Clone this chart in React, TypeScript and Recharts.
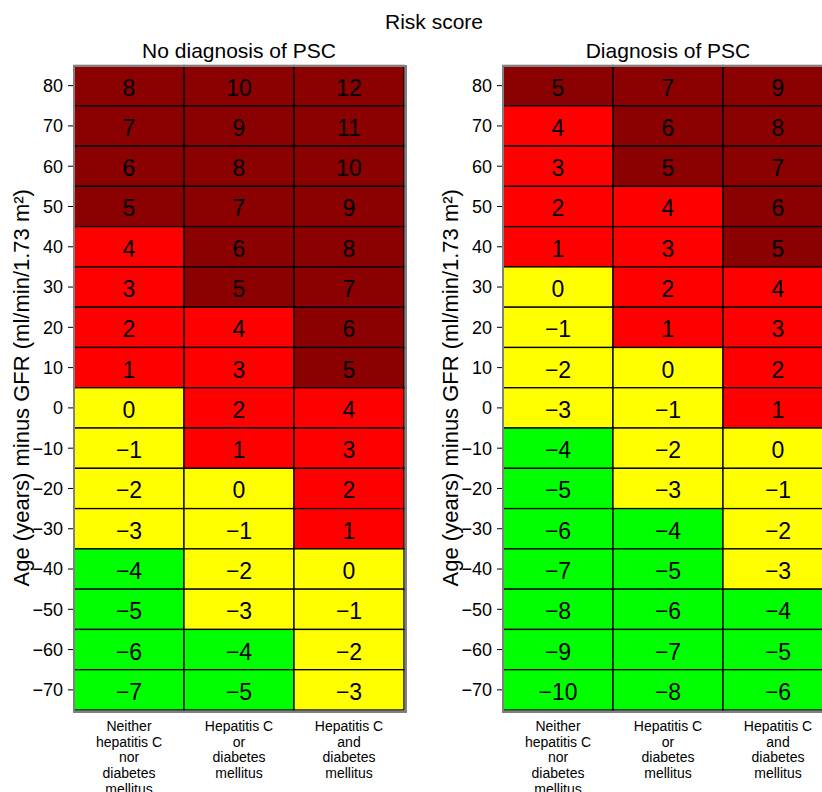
import { ScatterChart, Scatter, XAxis, YAxis } from 'recharts';

const FONT = '"Liberation Sans", Arial, sans-serif';

// Age minus GFR bands, top to bottom
const AGE_BANDS = [80, 70, 60, 50, 40, 30, 20, 10, 0, -10, -20, -30, -40, -50, -60, -70];

const GROUP_LABELS = [
  ['Neither', 'hepatitis C', 'nor', 'diabetes', 'mellitus'],
  ['Hepatitis C', 'or', 'diabetes', 'mellitus'],
  ['Hepatitis C', 'and', 'diabetes', 'mellitus'],
];

// one row per age band, one column per group
const NO_PSC_SCORES = [
  [8, 10, 12],
  [7, 9, 11],
  [6, 8, 10],
  [5, 7, 9],
  [4, 6, 8],
  [3, 5, 7],
  [2, 4, 6],
  [1, 3, 5],
  [0, 2, 4],
  [-1, 1, 3],
  [-2, 0, 2],
  [-3, -1, 1],
  [-4, -2, 0],
  [-5, -3, -1],
  [-6, -4, -2],
  [-7, -5, -3],
];

const PSC_SCORES = [
  [5, 7, 9],
  [4, 6, 8],
  [3, 5, 7],
  [2, 4, 6],
  [1, 3, 5],
  [0, 2, 4],
  [-1, 1, 3],
  [-2, 0, 2],
  [-3, -1, 1],
  [-4, -2, 0],
  [-5, -3, -1],
  [-6, -4, -2],
  [-7, -5, -3],
  [-8, -6, -4],
  [-9, -7, -5],
  [-10, -8, -6],
];

const CHART_W = 420;
const CHART_H = 792;
const MARGIN = { top: 65.5, right: 16, bottom: 0, left: 14 };
const Y_AXIS_W = 60;
const X_AXIS_H = 82;
const PLOT_W = CHART_W - MARGIN.left - MARGIN.right - Y_AXIS_W;
const PLOT_H = CHART_H - MARGIN.top - MARGIN.bottom - X_AXIS_H;
const CELL_W = PLOT_W / GROUP_LABELS.length;
const CELL_H = PLOT_H / AGE_BANDS.length;
const FRAME = 2;

const fmt = (v: number) => (v < 0 ? `\u2212${Math.abs(v)}` : `${v}`);

function riskColor(score: number) {
  if (score >= 5) return '#8B0000';
  if (score >= 1) return '#FF0000';
  if (score >= -3) return '#FFFF00';
  return '#00FF00';
}

const toCells = (scores: number[][]) =>
  scores.flatMap((row, r) => row.map((score, c) => ({ col: c, age: AGE_BANDS[r], score })));

function CellShape(props: any) {
  const { cx, cy, payload } = props;
  return (
    <g>
      <rect
        x={cx - CELL_W / 2}
        y={cy - CELL_H / 2}
        width={CELL_W}
        height={CELL_H}
        fill={riskColor(payload.score)}
        stroke="#000"
        strokeWidth={1.3}
      />
      <text x={cx} y={cy + 10} textAnchor="middle" fontSize={23} fontFamily={FONT} fill="#000">
        {fmt(payload.score)}
      </text>
    </g>
  );
}

function GroupTick(props: any) {
  const { x, y, payload } = props;
  const lines = GROUP_LABELS[payload.value] || [];
  return (
    <text x={x} y={y} textAnchor="middle" fontSize={14} fontFamily={FONT} fill="#000">
      {lines.map((line, i) => (
        <tspan key={i} x={x} dy={i === 0 ? 13 : 15.7}>
          {line}
        </tspan>
      ))}
    </text>
  );
}

function Panel({ title, scores, left }: { title: string; scores: number[][]; left: number }) {
  const cells = toCells(scores);
  return (
    <div style={{ position: 'absolute', left, top: 0 }}>
      <ScatterChart width={CHART_W} height={CHART_H} margin={MARGIN}>
        <XAxis
          type="number"
          dataKey="col"
          domain={[-0.5, 2.5]}
          ticks={[0, 1, 2]}
          interval={0}
          height={X_AXIS_H}
          axisLine={false}
          tickLine={false}
          tick={(p: any) => <GroupTick {...p} />}
        />
        <YAxis
          type="number"
          dataKey="age"
          domain={[-75, 85]}
          ticks={AGE_BANDS}
          interval={0}
          width={Y_AXIS_W}
          axisLine={false}
          tickSize={6}
          tickMargin={5}
          tickLine={{ stroke: '#000' }}
          tick={{ fill: '#000', fontSize: 18, fontFamily: FONT }}
          tickFormatter={fmt}
          label={{
            value: 'Age (years) minus GFR (ml/min/1.73 m²)',
            angle: -90,
            position: 'insideLeft',
            offset: 7,
            style: { textAnchor: 'middle', fontSize: 22, fontFamily: FONT, fill: '#000' },
          }}
        />
        <Scatter data={cells} shape={CellShape} isAnimationActive={false} />
      </ScatterChart>
      {/* grey frame round the plot area */}
      <div
        style={{
          position: 'absolute',
          left: MARGIN.left + Y_AXIS_W - FRAME / 2,
          top: MARGIN.top - FRAME / 2,
          width: PLOT_W,
          height: PLOT_H,
          border: `${FRAME}px solid #808080`,
          pointerEvents: 'none',
        }}
      />
      <div
        style={{
          position: 'absolute',
          left: MARGIN.left + Y_AXIS_W,
          width: PLOT_W,
          top: 39,
          textAlign: 'center',
          fontFamily: FONT,
          fontSize: 21,
          lineHeight: '24px',
          whiteSpace: 'nowrap',
        }}
      >
        {title}
      </div>
    </div>
  );
}

export default function App() {
  return (
    <div
      style={{
        position: 'absolute',
        left: 0,
        top: 0,
        width: 822,
        height: 792,
        overflow: 'hidden',
        background: '#fff',
      }}
    >
      <div
        style={{
          position: 'absolute',
          left: 0,
          width: 868,
          top: 10,
          textAlign: 'center',
          fontFamily: FONT,
          fontSize: 21,
          lineHeight: '24px',
        }}
      >
        Risk score
      </div>
      <Panel title="No diagnosis of PSC" scores={NO_PSC_SCORES} left={0} />
      <Panel title="Diagnosis of PSC" scores={PSC_SCORES} left={429} />
    </div>
  );
}
